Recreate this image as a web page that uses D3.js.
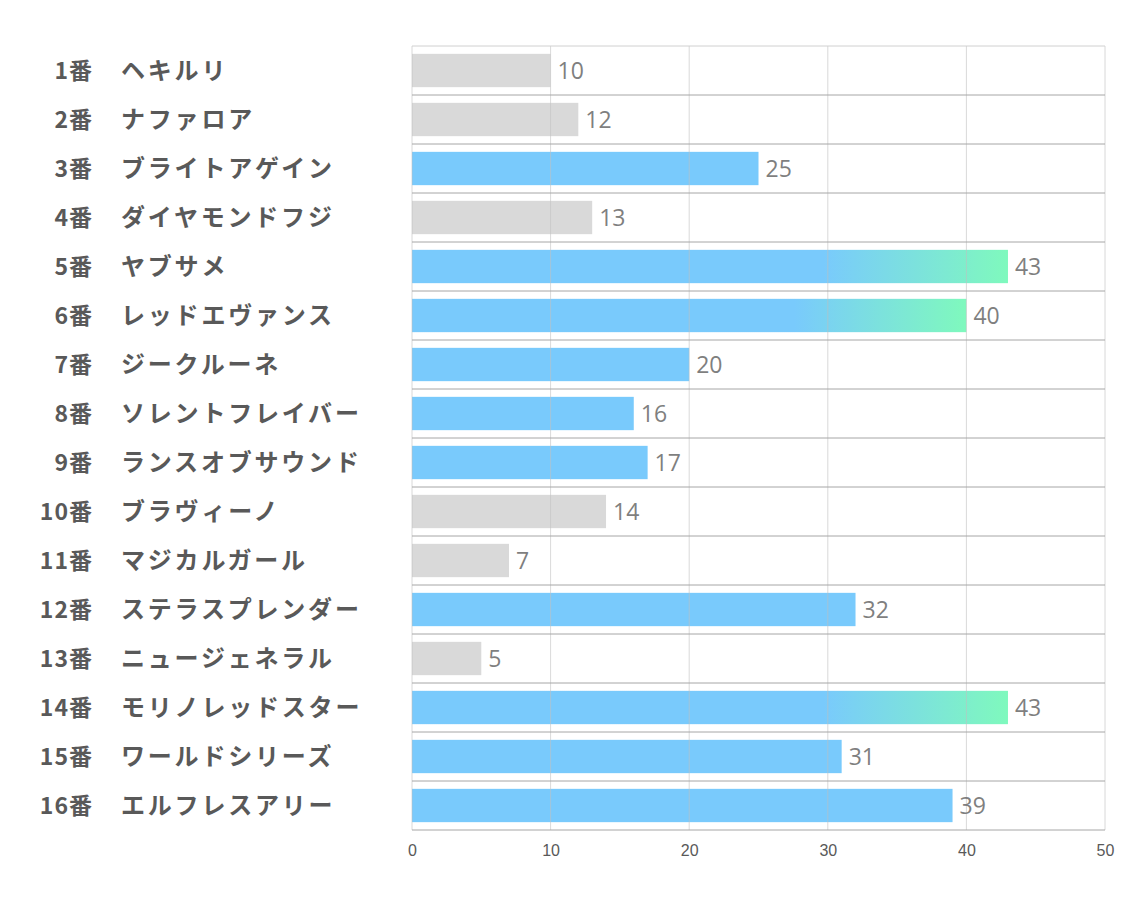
<!DOCTYPE html>
<html><head><meta charset="utf-8">
<script src="https://cdn.jsdelivr.net/npm/d3@7"></script>
<style>body{margin:0;background:#fff;}</style>
</head><body>
<svg id="c" width="1134" height="907"></svg>
<script>
const numbers = ["1番","2番","3番","4番","5番","6番","7番","8番","9番","10番","11番","12番","13番","14番","15番","16番"];
const names = ["ヘキルリ","ナファロア","ブライトアゲイン","ダイヤモンドフジ","ヤブサメ","レッドエヴァンス","ジークルーネ","ソレントフレイバー","ランスオブサウンド","ブラヴィーノ","マジカルガール","ステラスプレンダー","ニュージェネラル","モリノレッドスター","ワールドシリーズ","エルフレスアリー"];
const values = [10,12,25,13,43,40,20,16,17,14,7,32,5,43,31,39];
const kinds = ["gray","gray","blue","gray","grad","grad","blue","blue","blue","gray","gray","blue","gray","grad","blue","blue"];
const ticks = [0,10,20,30,40,50];

(function(){
const svg = d3.select("#c");
const L = 412, R = 1105, T = 46, B = 830;
const x = d3.scaleLinear().domain([0,50]).range([L,R]);
const y = d3.scaleBand().domain(d3.range(16)).range([T,B]).paddingInner(0.32).paddingOuter(0.16);
const rowH = (B-T)/16;

const defs = svg.append("defs");
const g = defs.append("linearGradient").attr("id","gr").attr("x1","0").attr("x2","1").attr("y1","0").attr("y2","0");
g.append("stop").attr("offset","0.69").attr("stop-color","#79cafc");
g.append("stop").attr("offset","1").attr("stop-color","#7ff9bd");

const fills = {gray:"#d9d9d9", blue:"#79cafc", grad:"url(#gr)"};

svg.append("g").selectAll("rect").data(values).join("rect")
  .attr("x", x(0)).attr("y",(d,i)=>y(i)).attr("height",y.bandwidth())
  .attr("width", d=>x(d)-x(0)).attr("fill",(d,i)=>fills[kinds[i]]);

svg.append("g").selectAll("line").data(ticks).join("line")
  .attr("x1",d=>x(d)).attr("x2",d=>x(d)).attr("y1",T).attr("y2",B)
  .attr("stroke","#bfbfbf").attr("stroke-opacity",0.6).attr("stroke-width",1);

svg.append("g").selectAll("line").data(d3.range(17)).join("line")
  .attr("x1",L).attr("x2",R)
  .attr("y1",i=>T+i*rowH).attr("y2",i=>T+i*rowH)
  .attr("stroke",(i)=> (i===0)?"#d0d0d0":"#a6a6a6").attr("stroke-width",1);

svg.append("g").selectAll("text").data(values).join("text")
  .attr("x",d=>x(d)+7).attr("y",(d,i)=>y(i)+y.bandwidth()/2)
  .attr("dy","0.36em").attr("fill","#7f7f7f")
  .style("font-family","'Open Sans','Noto Sans',sans-serif").style("font-size","23px")
  .text(d=>d);

const lab = svg.append("g").style("font-family","'Noto Sans CJK JP',sans-serif").style("font-weight","bold").attr("fill","#595959");
lab.selectAll("text.n").data(numbers).join("text").attr("class","n")
  .attr("x",93).attr("y",(d,i)=>y(i)+y.bandwidth()/2).attr("dy","0.36em")
  .attr("text-anchor","end").style("font-size","23px").style("letter-spacing","1px").text(d=>d);
lab.selectAll("text.m").data(names).join("text").attr("class","m")
  .attr("x",121).attr("y",(d,i)=>y(i)+y.bandwidth()/2).attr("dy","0.36em")
  .style("font-size","24px").style("letter-spacing","2.8px").text(d=>d);

const ax = svg.append("g").attr("transform",`translate(0,${B})`)
  .call(d3.axisBottom(x).tickValues(ticks).tickSize(0).tickPadding(15));
ax.select(".domain").remove();
ax.selectAll("text").attr("fill","#595959")
  .style("font-family","'Liberation Sans Narrow','Liberation Sans',sans-serif").style("font-size","16px");
})();
</script>
</body></html>
